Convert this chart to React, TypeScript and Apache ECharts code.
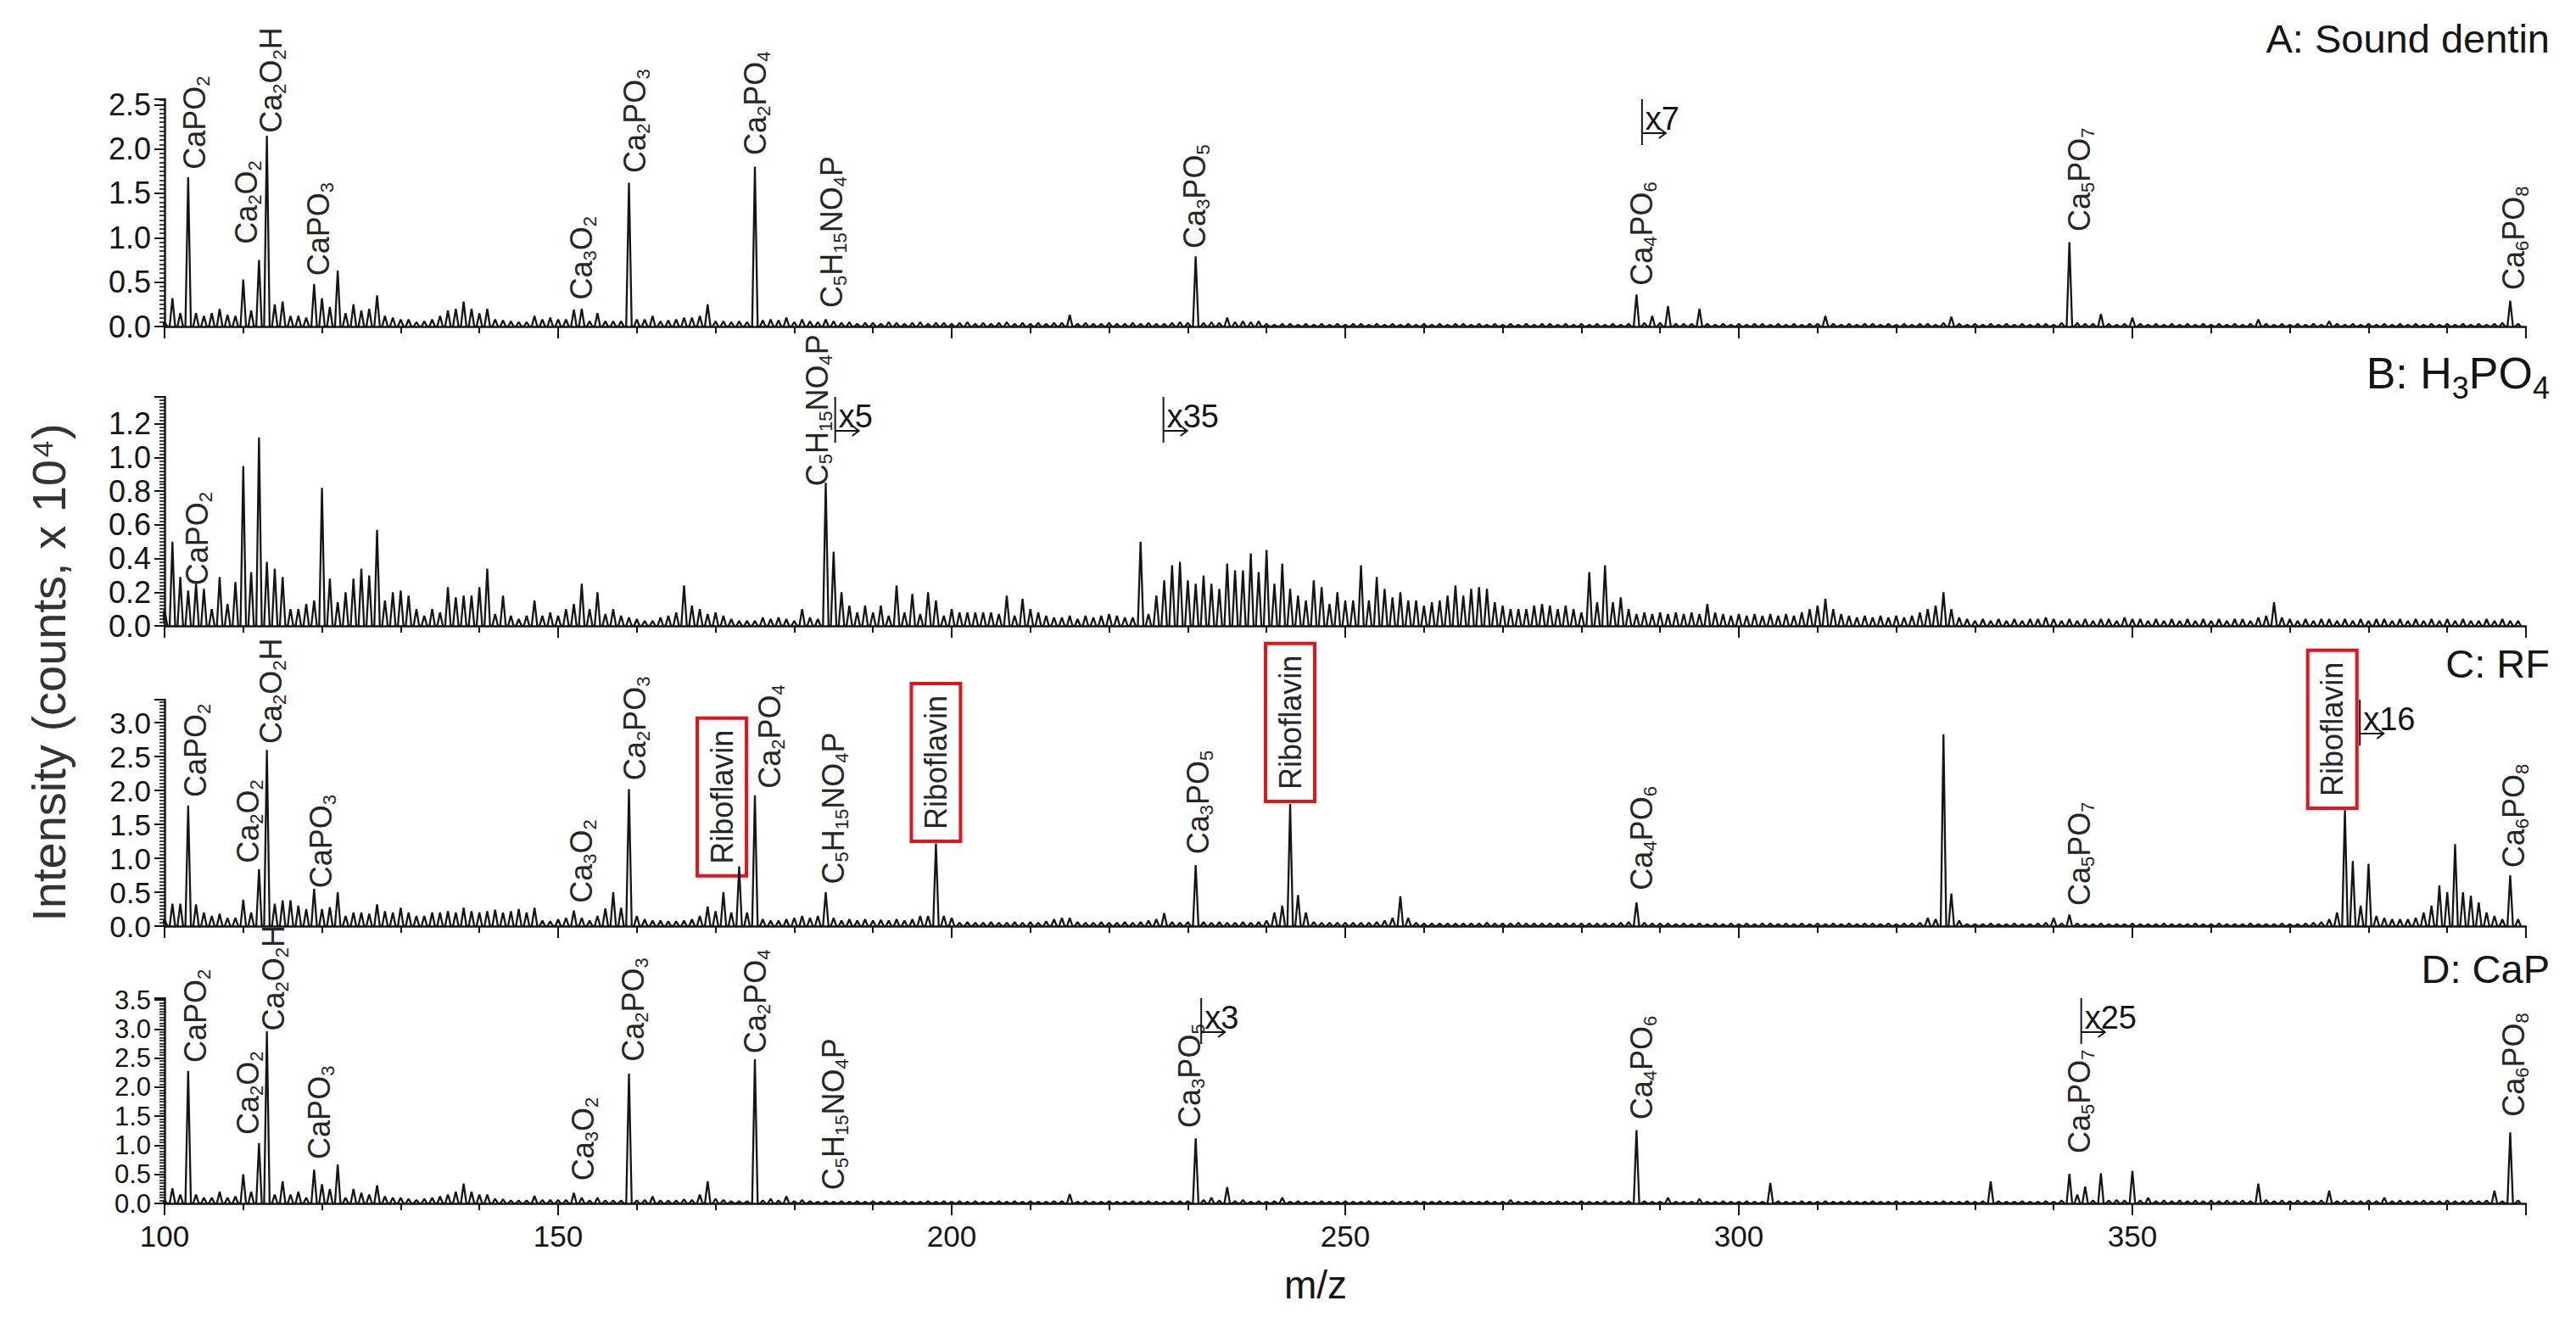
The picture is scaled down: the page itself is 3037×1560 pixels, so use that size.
import React, { useEffect, useRef } from "react";
import * as echarts from "echarts";

const FONT = "'Liberation Sans', Arial, Helvetica, sans-serif";
const INK = "#151515";
const LABEL_INK = "#262626";
const BOX_RED = "#e3141b";

// m/z axis
const MZ_START = 100;
const MZ_MIN = 100;
const MZ_MAX = 400;
const X_INTERVAL = 50;

// ---------- Spectrum A: Sound dentin (intensity x 10^4 at nominal m/z) ----------
const specA_100_199 = [
  0.05, 0.32, 0.15, 1.68, 0.15, 0.12, 0.15, 0.20, 0.13, 0.12,
  0.53, 0.18, 0.75, 2.15, 0.25, 0.28, 0.12, 0.12, 0.10, 0.48,
  0.32, 0.22, 0.63, 0.15, 0.25, 0.18, 0.20, 0.35, 0.12, 0.10,
  0.08, 0.08, 0.05, 0.06, 0.08, 0.12, 0.18, 0.20, 0.28, 0.20,
  0.15, 0.20, 0.08, 0.07, 0.06, 0.05, 0.05, 0.12, 0.08, 0.10,
  0.08, 0.08, 0.19, 0.20, 0.06, 0.15, 0.06, 0.06, 0.06, 1.62,
  0.08, 0.08, 0.12, 0.06, 0.07, 0.08, 0.10, 0.10, 0.12, 0.25,
  0.06, 0.06, 0.05, 0.06, 0.05, 1.80, 0.07, 0.08, 0.07, 0.10,
  0.05, 0.08, 0.06, 0.05, 0.08, 0.06, 0.04, 0.05, 0.03, 0.04,
  0.04, 0.03, 0.05, 0.04, 0.03, 0.04, 0.05, 0.03, 0.04, 0.04,
];
const specA_200_299 = [
  0.03, 0.04, 0.05, 0.03, 0.04, 0.03, 0.04, 0.05, 0.03, 0.04,
  0.03, 0.04, 0.03, 0.04, 0.04, 0.13, 0.03, 0.04, 0.03, 0.03,
  0.04, 0.03, 0.03, 0.04, 0.03, 0.04, 0.03, 0.03, 0.04, 0.05,
  0.04, 0.79, 0.04, 0.05, 0.04, 0.10, 0.05, 0.06, 0.05, 0.06,
  0.03, 0.02, 0.03, 0.03, 0.02, 0.03, 0.02, 0.03, 0.02, 0.03,
  0.02, 0.03, 0.03, 0.02, 0.03, 0.02, 0.03, 0.02, 0.03, 0.02,
  0.03, 0.02, 0.03, 0.02, 0.03, 0.03, 0.02, 0.03, 0.02, 0.03,
  0.02, 0.03, 0.02, 0.03, 0.02, 0.03, 0.03, 0.02, 0.03, 0.02,
  0.03, 0.02, 0.03, 0.02, 0.03, 0.02, 0.03, 0.36, 0.04, 0.12,
  0.04, 0.23, 0.03, 0.03, 0.03, 0.20, 0.03, 0.02, 0.03, 0.02,
];
const specA_300_399 = [
  0.03, 0.02, 0.03, 0.03, 0.02, 0.03, 0.02, 0.03, 0.02, 0.03,
  0.03, 0.12, 0.03, 0.02, 0.03, 0.02, 0.03, 0.03, 0.02, 0.03,
  0.02, 0.03, 0.02, 0.03, 0.03, 0.02, 0.04, 0.11, 0.03, 0.02,
  0.03, 0.02, 0.03, 0.02, 0.03, 0.02, 0.03, 0.02, 0.03, 0.03,
  0.02, 0.04, 0.95, 0.04, 0.03, 0.03, 0.14, 0.03, 0.02, 0.03,
  0.10, 0.03, 0.02, 0.03, 0.02, 0.03, 0.02, 0.03, 0.02, 0.03,
  0.02, 0.03, 0.02, 0.03, 0.02, 0.03, 0.08, 0.03, 0.02, 0.03,
  0.02, 0.03, 0.02, 0.03, 0.02, 0.06, 0.03, 0.02, 0.03, 0.02,
  0.03, 0.02, 0.03, 0.02, 0.03, 0.02, 0.03, 0.02, 0.03, 0.02,
  0.03, 0.02, 0.03, 0.02, 0.03, 0.02, 0.03, 0.04, 0.29, 0.03,
];

// ---------- Spectrum B: H3PO4 ----------
const specB_100_199 = [
  0.10, 0.50, 0.29, 0.21, 0.25, 0.22, 0.10, 0.29, 0.13, 0.26,
  0.95, 0.32, 1.12, 0.38, 0.34, 0.29, 0.10, 0.10, 0.13, 0.15,
  0.82, 0.28, 0.14, 0.20, 0.28, 0.34, 0.30, 0.57, 0.15, 0.20,
  0.21, 0.18, 0.10, 0.06, 0.10, 0.08, 0.23, 0.17, 0.18, 0.18,
  0.23, 0.34, 0.07, 0.18, 0.06, 0.04, 0.06, 0.15, 0.06, 0.08,
  0.06, 0.10, 0.13, 0.25, 0.10, 0.20, 0.07, 0.10, 0.06, 0.05,
  0.04, 0.03, 0.03, 0.05, 0.06, 0.08, 0.24, 0.12, 0.10, 0.07,
  0.08, 0.06, 0.04, 0.03, 0.03, 0.03, 0.05, 0.04, 0.05, 0.04,
  0.03, 0.10, 0.05, 0.04, 0.85, 0.44, 0.20, 0.12, 0.08, 0.12,
  0.08, 0.12, 0.06, 0.24, 0.08, 0.19, 0.07, 0.20, 0.15, 0.06,
];
const specB_200_299 = [
  0.10, 0.08, 0.08, 0.08, 0.08, 0.08, 0.07, 0.18, 0.06, 0.16,
  0.10, 0.08, 0.06, 0.05, 0.05, 0.06, 0.04, 0.06, 0.05, 0.06,
  0.07, 0.06, 0.05, 0.05, 0.50, 0.07, 0.18, 0.27, 0.36, 0.38,
  0.27, 0.25, 0.30, 0.25, 0.22, 0.37, 0.33, 0.33, 0.43, 0.32,
  0.45, 0.25, 0.37, 0.22, 0.18, 0.15, 0.27, 0.23, 0.13, 0.20,
  0.15, 0.15, 0.36, 0.15, 0.29, 0.22, 0.17, 0.20, 0.15, 0.15,
  0.12, 0.14, 0.15, 0.18, 0.24, 0.18, 0.22, 0.23, 0.22, 0.14,
  0.12, 0.10, 0.10, 0.10, 0.12, 0.13, 0.12, 0.10, 0.12, 0.10,
  0.08, 0.32, 0.14, 0.36, 0.14, 0.17, 0.10, 0.07, 0.08, 0.07,
  0.08, 0.07, 0.08, 0.07, 0.08, 0.07, 0.13, 0.08, 0.07, 0.06,
];
const specB_300_399 = [
  0.07, 0.06, 0.07, 0.06, 0.07, 0.06, 0.07, 0.06, 0.08, 0.10,
  0.12, 0.16, 0.10, 0.07, 0.06, 0.05, 0.06, 0.05, 0.06, 0.05,
  0.06, 0.05, 0.06, 0.08, 0.10, 0.12, 0.20, 0.10, 0.05, 0.04,
  0.03, 0.04, 0.03, 0.04, 0.03, 0.04, 0.03, 0.04, 0.04, 0.05,
  0.04, 0.03, 0.04, 0.03, 0.04, 0.03, 0.04, 0.04, 0.03, 0.05,
  0.04, 0.04, 0.03, 0.04, 0.03, 0.04, 0.03, 0.04, 0.03, 0.04,
  0.03, 0.04, 0.03, 0.04, 0.04, 0.03, 0.05, 0.06, 0.14, 0.05,
  0.04, 0.03, 0.04, 0.03, 0.04, 0.04, 0.03, 0.04, 0.03, 0.04,
  0.03, 0.04, 0.04, 0.03, 0.04, 0.03, 0.04, 0.03, 0.04, 0.03,
  0.04, 0.03, 0.04, 0.03, 0.03, 0.04, 0.03, 0.04, 0.03, 0.03,
];

// ---------- Spectrum C: RF ----------
const specC_100_199 = [
  0.10, 0.33, 0.33, 1.78, 0.32, 0.20, 0.15, 0.18, 0.12, 0.12,
  0.39, 0.20, 0.84, 2.60, 0.33, 0.38, 0.38, 0.30, 0.25, 0.55,
  0.25, 0.28, 0.50, 0.15, 0.20, 0.20, 0.18, 0.32, 0.22, 0.20,
  0.27, 0.20, 0.15, 0.15, 0.20, 0.20, 0.22, 0.20, 0.27, 0.22,
  0.20, 0.22, 0.24, 0.20, 0.22, 0.25, 0.20, 0.27, 0.08, 0.07,
  0.10, 0.12, 0.23, 0.12, 0.08, 0.15, 0.26, 0.50, 0.27, 2.02,
  0.15, 0.10, 0.08, 0.08, 0.07, 0.07, 0.08, 0.10, 0.15, 0.29,
  0.22, 0.50, 0.20, 0.88, 0.20, 1.93, 0.10, 0.08, 0.08, 0.10,
  0.12, 0.15, 0.12, 0.15, 0.50, 0.12, 0.08, 0.10, 0.08, 0.10,
  0.08, 0.09, 0.08, 0.10, 0.08, 0.10, 0.15, 0.15, 1.22, 0.15,
];
const specC_200_299 = [
  0.12, 0.05, 0.06, 0.05, 0.05, 0.06, 0.05, 0.05, 0.06, 0.05,
  0.06, 0.05, 0.07, 0.10, 0.12, 0.12, 0.06, 0.05, 0.05, 0.06,
  0.05, 0.05, 0.06, 0.05, 0.06, 0.08, 0.10, 0.19, 0.06, 0.05,
  0.06, 0.90, 0.06, 0.05, 0.06, 0.05, 0.05, 0.06, 0.05, 0.06,
  0.08, 0.20, 0.30, 1.80, 0.46, 0.20, 0.06, 0.05, 0.05, 0.05,
  0.05, 0.05, 0.05, 0.05, 0.06, 0.08, 0.12, 0.44, 0.12, 0.05,
  0.04, 0.04, 0.04, 0.04, 0.04, 0.04, 0.04, 0.04, 0.05, 0.04,
  0.04, 0.04, 0.05, 0.04, 0.04, 0.04, 0.04, 0.04, 0.04, 0.04,
  0.04, 0.04, 0.04, 0.04, 0.04, 0.05, 0.06, 0.35, 0.05, 0.04,
  0.04, 0.04, 0.03, 0.04, 0.03, 0.04, 0.03, 0.04, 0.03, 0.04,
];
const specC_300_399 = [
  0.03, 0.04, 0.03, 0.04, 0.04, 0.03, 0.04, 0.03, 0.04, 0.03,
  0.04, 0.03, 0.04, 0.03, 0.04, 0.03, 0.04, 0.04, 0.03, 0.04,
  0.03, 0.04, 0.04, 0.05, 0.12, 0.10, 2.83, 0.48, 0.08, 0.03,
  0.03, 0.03, 0.04, 0.03, 0.03, 0.04, 0.03, 0.03, 0.04, 0.05,
  0.12, 0.04, 0.17, 0.04, 0.03, 0.03, 0.04, 0.03, 0.03, 0.03,
  0.04, 0.03, 0.03, 0.03, 0.04, 0.03, 0.03, 0.03, 0.04, 0.03,
  0.03, 0.04, 0.03, 0.03, 0.03, 0.04, 0.03, 0.03, 0.03, 0.04,
  0.03, 0.03, 0.04, 0.05, 0.06, 0.10, 0.20, 1.71, 0.96, 0.30,
  0.92, 0.15, 0.12, 0.10, 0.10, 0.10, 0.12, 0.20, 0.30, 0.60,
  0.50, 1.21, 0.50, 0.45, 0.35, 0.20, 0.15, 0.10, 0.75, 0.10,
];

// ---------- Spectrum D: CaP ----------
const specD_100_199 = [
  0.05, 0.26, 0.15, 2.28, 0.15, 0.10, 0.10, 0.20, 0.10, 0.12,
  0.50, 0.20, 1.04, 2.96, 0.15, 0.38, 0.15, 0.20, 0.10, 0.58,
  0.33, 0.25, 0.67, 0.10, 0.25, 0.18, 0.15, 0.31, 0.12, 0.10,
  0.10, 0.08, 0.06, 0.08, 0.10, 0.12, 0.15, 0.20, 0.34, 0.20,
  0.15, 0.15, 0.08, 0.07, 0.05, 0.05, 0.05, 0.13, 0.06, 0.06,
  0.06, 0.06, 0.18, 0.10, 0.05, 0.10, 0.05, 0.05, 0.05, 2.23,
  0.05, 0.06, 0.12, 0.05, 0.05, 0.05, 0.07, 0.06, 0.15, 0.38,
  0.08, 0.06, 0.04, 0.04, 0.04, 2.48, 0.05, 0.08, 0.05, 0.12,
  0.04, 0.06, 0.04, 0.03, 0.04, 0.03, 0.04, 0.03, 0.04, 0.03,
  0.04, 0.03, 0.04, 0.03, 0.04, 0.03, 0.03, 0.04, 0.03, 0.04,
];
const specD_200_299 = [
  0.03, 0.04, 0.03, 0.04, 0.03, 0.03, 0.04, 0.03, 0.04, 0.03,
  0.04, 0.03, 0.03, 0.04, 0.04, 0.16, 0.03, 0.04, 0.03, 0.03,
  0.04, 0.03, 0.03, 0.04, 0.03, 0.04, 0.03, 0.03, 0.04, 0.04,
  0.04, 1.12, 0.06, 0.10, 0.05, 0.28, 0.04, 0.06, 0.03, 0.04,
  0.03, 0.04, 0.10, 0.03, 0.04, 0.03, 0.03, 0.04, 0.03, 0.03,
  0.04, 0.03, 0.03, 0.04, 0.03, 0.03, 0.04, 0.03, 0.03, 0.04,
  0.03, 0.03, 0.04, 0.03, 0.03, 0.04, 0.03, 0.03, 0.04, 0.03,
  0.03, 0.06, 0.03, 0.03, 0.04, 0.03, 0.03, 0.04, 0.03, 0.03,
  0.04, 0.03, 0.03, 0.04, 0.03, 0.03, 0.04, 1.26, 0.04, 0.03,
  0.03, 0.10, 0.03, 0.03, 0.03, 0.08, 0.03, 0.03, 0.04, 0.03,
];
const specD_300_399 = [
  0.03, 0.04, 0.03, 0.03, 0.35, 0.04, 0.03, 0.03, 0.04, 0.03,
  0.03, 0.04, 0.03, 0.03, 0.04, 0.03, 0.03, 0.04, 0.03, 0.03,
  0.04, 0.03, 0.03, 0.04, 0.03, 0.03, 0.04, 0.03, 0.03, 0.04,
  0.03, 0.04, 0.38, 0.04, 0.03, 0.03, 0.04, 0.03, 0.03, 0.04,
  0.03, 0.05, 0.51, 0.15, 0.29, 0.05, 0.52, 0.05, 0.06, 0.05,
  0.56, 0.05, 0.10, 0.04, 0.05, 0.04, 0.05, 0.04, 0.05, 0.04,
  0.05, 0.04, 0.05, 0.04, 0.05, 0.04, 0.34, 0.06, 0.04, 0.05,
  0.04, 0.05, 0.04, 0.04, 0.05, 0.22, 0.04, 0.05, 0.04, 0.04,
  0.05, 0.04, 0.10, 0.04, 0.05, 0.04, 0.04, 0.05, 0.04, 0.04,
  0.05, 0.04, 0.04, 0.05, 0.04, 0.05, 0.22, 0.04, 1.22, 0.05,
];

// ---------- Panels ----------
const panelTitles = ["A: Sound dentin", "B: H{t|3}PO{t|4}", "C: RF", "D: CaP"];
const panelYMax = [2.56, 1.36, 3.34, 3.53];
const panelYInterval = [0.5, 0.2, 0.5, 0.5];
const yAxisTitle = "Intensity (counts, x 10\u2074)";
const xAxisTitle = "m/z";

// peak labels: [formula (rich), m/z of label, intensity at label foot]
type PeakLabel = [string, number, number];
const labelsA: PeakLabel[] = [
  ["CaPO{s|2}", 103.8, 1.77],
  ["Ca{s|2}O{s|2}", 110.4, 0.93],
  ["Ca{s|2}O{s|2}H", 113.5, 2.18],
  ["CaPO{s|3}", 119.6, 0.57],
  ["Ca{s|3}O{s|2}", 153.0, 0.3],
  ["Ca{s|2}PO{s|3}", 159.8, 1.73],
  ["Ca{s|2}PO{s|4}", 175.0, 1.93],
  ["C{s|5}H{s|15}NO{s|4}P", 184.8, 0.21],
  ["Ca{s|3}PO{s|5}", 230.9, 0.88],
  ["Ca{s|4}PO{s|6}", 287.7, 0.46],
  ["Ca{s|5}PO{s|7}", 343.3, 1.07],
  ["Ca{s|6}PO{s|8}", 398.4, 0.41],
];
const labelsB: PeakLabel[] = [
  ["CaPO{s|2}", 104.2, 0.24],
  ["C{s|5}H{s|15}NO{s|4}P", 182.9, 0.83],
];
const labelsC: PeakLabel[] = [
  ["CaPO{s|2}", 103.9, 1.9],
  ["Ca{s|2}O{s|2}", 110.6, 0.93],
  ["Ca{s|2}O{s|2}H", 113.5, 2.69],
  ["CaPO{s|3}", 119.9, 0.56],
  ["Ca{s|3}O{s|2}", 153.0, 0.34],
  ["Ca{s|2}PO{s|3}", 159.8, 2.15],
  ["Ca{s|2}PO{s|4}", 176.9, 2.03],
  ["C{s|5}H{s|15}NO{s|4}P", 185.0, 0.62],
  ["Ca{s|3}PO{s|5}", 231.3, 1.06],
  ["Ca{s|4}PO{s|6}", 287.7, 0.53],
  ["Ca{s|5}PO{s|7}", 343.3, 0.3],
  ["Ca{s|6}PO{s|8}", 398.4, 0.86],
];
const labelsD: PeakLabel[] = [
  ["CaPO{s|2}", 103.9, 2.42],
  ["Ca{s|2}O{s|2}", 110.6, 1.18],
  ["Ca{s|2}O{s|2}H", 113.8, 2.97],
  ["CaPO{s|3}", 119.7, 0.76],
  ["Ca{s|3}O{s|2}", 153.2, 0.39],
  ["Ca{s|2}PO{s|3}", 159.5, 2.44],
  ["Ca{s|2}PO{s|4}", 175.0, 2.58],
  ["C{s|5}H{s|15}NO{s|4}P", 185.0, 0.23],
  ["Ca{s|3}PO{s|5}", 230.2, 1.3],
  ["Ca{s|4}PO{s|6}", 287.7, 1.44],
  ["Ca{s|5}PO{s|7}", 343.3, 0.86],
  ["Ca{s|6}PO{s|8}", 398.4, 1.49],
];
// riboflavin boxes in panel C: [m/z centre, intensity at box foot]
const riboflavinC: [number, number][] = [
  [170.8, 0.74],
  [198.0, 1.25],
  [243.0, 1.84],
  [375.4, 1.74],
];
// magnification marks: [panel index, m/z, text]
const scaleMarks: [number, number, string][] = [
  [0, 287.7, "x7"],
  [1, 185.2, "x5"],
  [1, 226.9, "x35"],
  [2, 378.9, "x16"],
  [3, 231.7, "x3"],
  [3, 343.5, "x25"],
];

// ---------- layout (px) ----------
const GRID_LEFT = 194;
const GRID_WIDTH = 2784;
const gridBoxes = [
  { top: 117, height: 268 },
  { top: 468, height: 270 },
  { top: 825, height: 267 },
  { top: 1177, height: 242 },
];
const titleCenters = [45, 440, 782, 1142];
const yLabelFont = [36, 36, 35, 31];

function toSticks(values: number[]): [number, number][] {
  const pts: [number, number][] = [];
  values.forEach((v, i) => {
    const mz = MZ_START + i;
    pts.push([mz - 0.35, 0], [mz, v], [mz + 0.35, 0]);
  });
  return pts;
}

export default function App() {
  const ref = useRef<HTMLDivElement>(null);
  useEffect(() => {
    if (!ref.current) return;
    const chart = echarts.init(ref.current, null, { renderer: "svg" });
    const spectra = [
      [...specA_100_199, ...specA_200_299, ...specA_300_399],
      [...specB_100_199, ...specB_200_299, ...specB_300_399],
      [...specC_100_199, ...specC_200_299, ...specC_300_399],
      [...specD_100_199, ...specD_200_299, ...specD_300_399],
    ];
    const option: any = {
      animation: false,
      backgroundColor: "#ffffff",
      grid: gridBoxes.map((g) => ({
        left: GRID_LEFT,
        width: GRID_WIDTH,
        top: g.top,
        height: g.height,
        containLabel: false,
      })),
      xAxis: gridBoxes.map((_, i) => ({
        type: "value",
        gridIndex: i,
        min: MZ_MIN,
        max: MZ_MAX,
        interval: X_INTERVAL,
        axisLine: { show: true, onZero: false, lineStyle: { color: INK, width: 2.5 } },
        axisTick: { show: true, length: 14, lineStyle: { color: INK, width: 2 } },
        minorTick: { show: true, splitNumber: 5, length: 8, lineStyle: { color: INK, width: 2 } },
        axisLabel: {
          show: i === 3,
          showMinLabel: true,
          showMaxLabel: false,
          hideOverlap: false,
          fontSize: 35,
          color: INK,
          fontFamily: FONT,
          margin: 21,
        },
        splitLine: { show: false },
        minorSplitLine: { show: false },
      })),
      yAxis: gridBoxes.map((_, i) => ({
        type: "value",
        gridIndex: i,
        min: 0,
        max: panelYMax[i],
        interval: panelYInterval[i],
        axisLine: { show: true, lineStyle: { color: INK, width: 2.5 } },
        axisTick: { show: true, length: 12, lineStyle: { color: INK, width: 2 } },
        minorTick: { show: true, splitNumber: 10, length: 6, lineStyle: { color: INK, width: 1.6 } },
        axisLabel: {
          showMinLabel: true,
          showMaxLabel: false,
          hideOverlap: false,
          fontSize: yLabelFont[i],
          lineHeight: yLabelFont[i] - 2,
          color: INK,
          fontFamily: FONT,
          margin: 16,
          formatter: (v: number) => v.toFixed(1),
        },
        splitLine: { show: false },
        minorSplitLine: { show: false },
      })),
      series: spectra.map((d, i) => ({
        type: "line",
        xAxisIndex: i,
        yAxisIndex: i,
        data: toSticks(d),
        showSymbol: false,
        symbol: "none",
        silent: true,
        clip: true,
        lineStyle: { color: INK, width: 2.3 },
      })),
    };
    chart.setOption(option);

    const toPx = (gi: number, mz: number, y: number) =>
      chart.convertToPixel({ xAxisIndex: gi, yAxisIndex: gi } as any, [mz, y]) as number[];

    const subStyle = { fontSize: 22, height: 16, verticalAlign: "bottom", fontFamily: FONT, fill: LABEL_INK };
    const graphics: any[] = [];

    const allLabels = [labelsA, labelsB, labelsC, labelsD];
    allLabels.forEach((list, gi) => {
      list.forEach(([text, mz, y]) => {
        const [px, py] = toPx(gi, mz, y);
        graphics.push({
          type: "text",
          x: px,
          y: py,
          rotation: Math.PI / 2,
          silent: true,
          style: {
            text,
            rich: { s: subStyle },
            fontSize: 36,
            fontFamily: FONT,
            fill: LABEL_INK,
            align: "left",
            verticalAlign: "middle",
          },
        });
      });
    });

    riboflavinC.forEach(([mz, y]) => {
      const [px, py] = toPx(2, mz, y);
      graphics.push({
        type: "text",
        x: px,
        y: py,
        rotation: Math.PI / 2,
        silent: true,
        style: {
          text: "Riboflavin",
          fontSize: 36,
          fontFamily: FONT,
          fill: LABEL_INK,
          align: "left",
          verticalAlign: "middle",
          padding: [11, 14],
          borderColor: BOX_RED,
          borderWidth: 4,
        },
      });
    });

    scaleMarks.forEach(([gi, mz, text]) => {
      const [px, top] = toPx(gi, mz, panelYMax[gi]);
      graphics.push(
        {
          type: "line",
          silent: true,
          shape: { x1: px, y1: top, x2: px, y2: top + 54 },
          style: { stroke: INK, lineWidth: 2 },
        },
        {
          type: "line",
          silent: true,
          shape: { x1: px, y1: top + 40, x2: px + 28, y2: top + 40 },
          style: { stroke: INK, lineWidth: 2 },
        },
        {
          type: "polyline",
          silent: true,
          shape: { points: [[px + 20, top + 34], [px + 28, top + 40], [px + 20, top + 46]] },
          style: { stroke: INK, lineWidth: 2, fill: "none" },
        },
        {
          type: "text",
          x: px + 4,
          y: top + 23,
          silent: true,
          style: {
            text,
            fontSize: 38,
            fontFamily: FONT,
            fill: INK,
            align: "left",
            verticalAlign: "middle",
          },
        }
      );
    });

    panelTitles.forEach((t, i) => {
      graphics.push({
        type: "text",
        x: 3006,
        y: titleCenters[i],
        silent: true,
        style: {
          text: t,
          rich: { t: { fontSize: 36, height: 18, verticalAlign: "bottom", fontFamily: FONT, fill: INK } },
          fontSize: i === 1 ? 52 : 47,
          fontFamily: FONT,
          fill: INK,
          align: "right",
          verticalAlign: "middle",
        },
      });
    });

    graphics.push({
      type: "text",
      x: 57,
      y: 793,
      rotation: Math.PI / 2,
      silent: true,
      style: {
        text: yAxisTitle,
        fontSize: 56,
        fontFamily: FONT,
        fill: "#333",
        align: "center",
        verticalAlign: "middle",
      },
    });

    graphics.push({
      type: "text",
      x: 1551,
      y: 1515,
      silent: true,
      style: {
        text: xAxisTitle,
        fontSize: 46,
        fontFamily: FONT,
        fill: INK,
        align: "center",
        verticalAlign: "middle",
      },
    });

    chart.setOption({ graphic: graphics });

    return () => chart.dispose();
  }, []);

  return (
    <div
      ref={ref}
      style={{ position: "fixed", left: 0, top: 0, width: 3037, height: 1560, background: "#fff" }}
    />
  );
}
